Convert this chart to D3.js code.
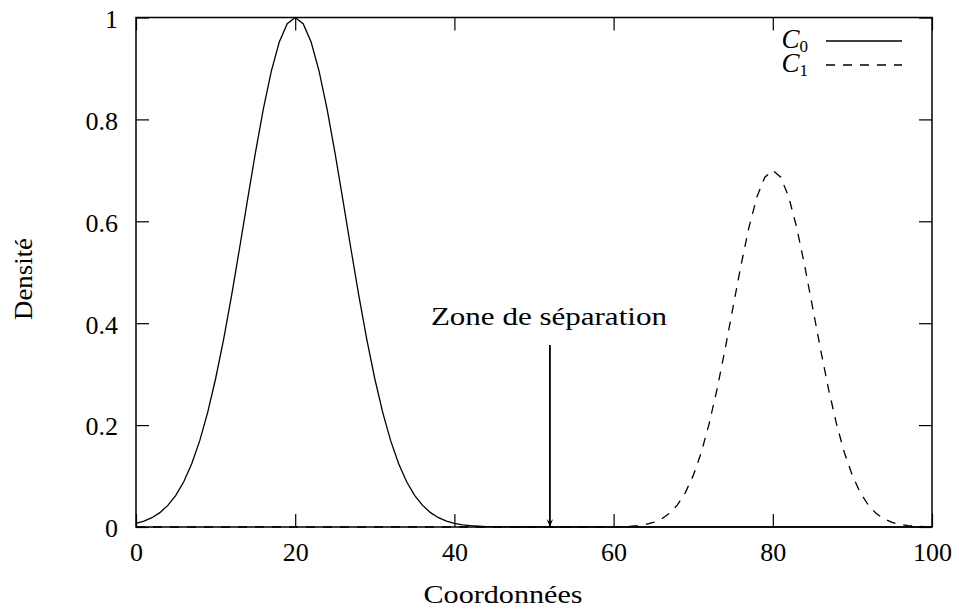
<!DOCTYPE html>
<html>
<head>
<meta charset="utf-8">
<script src="https://cdn.jsdelivr.net/npm/d3@7"></script>
<style>
  body { margin: 0; background: #fff; }
</style>
</head>
<body>
<div id="chart"></div>
<script>
// sample grid 0..100 (step 1)
var xs = d3.range(0, 101);

// C0 : density
var c0 = [0.0072, 0.0116, 0.0183, 0.0282, 0.0424, 0.0622, 0.0889, 0.1241, 0.1690, 0.2245,
          0.2910, 0.3679, 0.4538, 0.5461, 0.6412, 0.7345, 0.8208, 0.8948, 0.9518, 0.9877,
          1.0000, 0.9877, 0.9518, 0.8948, 0.8208, 0.7345, 0.6412, 0.5461, 0.4538, 0.3679,
          0.2910, 0.2245, 0.1690, 0.1241, 0.0889, 0.0622, 0.0424, 0.0282, 0.0183, 0.0116,
          0.0072, 0.0043, 0.0025, 0.0015, 0.0008, 0.0004, 0.0002, 0.0001, 0, 0,
          0, 0, 0, 0, 0, 0, 0, 0, 0, 0,
          0, 0, 0, 0, 0, 0, 0, 0, 0, 0,
          0, 0, 0, 0, 0, 0, 0, 0, 0, 0,
          0, 0, 0, 0, 0, 0, 0, 0, 0, 0,
          0, 0, 0, 0, 0, 0, 0, 0, 0, 0,
          0];

// C1 : density
var c1 = [0, 0, 0, 0, 0, 0, 0, 0, 0, 0,
          0, 0, 0, 0, 0, 0, 0, 0, 0, 0,
          0, 0, 0, 0, 0, 0, 0, 0, 0, 0,
          0, 0, 0, 0, 0, 0, 0, 0, 0, 0,
          0, 0, 0, 0, 0, 0, 0, 0, 0, 0,
          0, 0, 0, 0, 0, 0, 0, 0, 0, 0.0001,
          0.0003, 0.0006, 0.0013, 0.0026, 0.0049, 0.0089, 0.0157, 0.0265, 0.0430, 0.0671,
          0.1008, 0.1457, 0.2025, 0.2708, 0.3484, 0.4312, 0.5134, 0.5880, 0.6478, 0.6866,
          0.7000, 0.6866, 0.6478, 0.5880, 0.5134, 0.4312, 0.3484, 0.2708, 0.2025, 0.1457,
          0.1008, 0.0671, 0.0430, 0.0265, 0.0157, 0.0089, 0.0049, 0.0026, 0.0013, 0.0006,
          0.0003];

var xTicks = [0, 20, 40, 60, 80, 100];
var yTicks = [0, 0.2, 0.4, 0.6, 0.8, 1];
var seriesNames = ["0", "1"];   // subscripts of C
var arrowX = 52, arrowTop = 0.357;
var annotation = "Zone de séparation";

var W = 959, H = 609;
var FONT = "'Liberation Serif', 'Times New Roman', serif";
var margin = { top: 17.5, right: 27, bottom: 82, left: 136 },
    width = W - margin.left - margin.right,
    height = H - margin.top - margin.bottom;

var svg = d3.select("#chart").append("svg")
    .attr("width", W)
    .attr("height", H)
    .attr("font-family", FONT);

var g = svg.append("g")
    .attr("transform", "translate(" + margin.left + "," + margin.top + ")");

var x = d3.scaleLinear().domain([0, 100]).range([0, width]);
var y = d3.scaleLinear().domain([0, 1]).range([height, 0]);

var FS = 26;
var TICK = 13;

// axes (ticks inward, mirrored)
var xb = g.append("g")
    .attr("transform", "translate(0," + height + ")")
    .call(d3.axisBottom(x).tickValues(xTicks).tickFormat(d3.format("d"))
        .tickSizeInner(-TICK).tickSizeOuter(0).tickPadding(16));
g.append("g")
    .call(d3.axisTop(x).tickValues(xTicks).tickFormat("")
        .tickSizeInner(-TICK).tickSizeOuter(0));
var yl = g.append("g")
    .call(d3.axisLeft(y).tickValues(yTicks).tickFormat(function (d) { return d === 0 || d === 1 ? d : d.toFixed(1); })
        .tickSizeInner(-TICK).tickSizeOuter(0).tickPadding(18));
g.append("g")
    .attr("transform", "translate(" + width + ",0)")
    .call(d3.axisRight(y).tickValues(yTicks).tickFormat("")
        .tickSizeInner(-TICK).tickSizeOuter(0));

g.selectAll(".domain").remove();
g.selectAll(".tick line").attr("stroke", "#000").attr("stroke-width", 1.2);
g.selectAll(".tick text")
    .attr("font-family", FONT)
    .attr("font-size", FS)
    .attr("fill", "#000");
yl.selectAll(".tick text").attr("dy", "0.38em");

// curves
var line0 = d3.line()
    .x(function (d, i) { return x(xs[i]); })
    .y(function (d) { return y(d); });

g.append("path")
    .datum(c0)
    .attr("fill", "none")
    .attr("stroke", "#000")
    .attr("stroke-width", 1.3)
    .attr("d", line0);

g.append("path")
    .datum(c1)
    .attr("fill", "none")
    .attr("stroke", "#000")
    .attr("stroke-width", 1.3)
    .attr("stroke-dasharray", "9,8")
    .attr("d", line0);

// frame
g.append("rect")
    .attr("width", width)
    .attr("height", height)
    .attr("fill", "none")
    .attr("stroke", "#000")
    .attr("stroke-width", 1.5);

// arrow
svg.append("defs").append("marker")
    .attr("id", "arr")
    .attr("viewBox", "0 0 10 10")
    .attr("refX", 10).attr("refY", 5)
    .attr("markerWidth", 8).attr("markerHeight", 8)
    .attr("markerUnits", "userSpaceOnUse")
    .attr("orient", "auto")
    .append("path")
    .attr("d", "M0,1 L10,5 L0,9 L4,5 Z")
    .attr("fill", "#000");

g.append("line")
    .attr("x1", x(arrowX)).attr("x2", x(arrowX))
    .attr("y1", y(arrowTop)).attr("y2", y(0))
    .attr("stroke", "#000")
    .attr("stroke-width", 1.8)
    .attr("marker-end", "url(#arr)");

g.append("text")
    .attr("x", x(arrowX) - 1)
    .attr("y", 325 - margin.top)
    .attr("text-anchor", "middle")
    .attr("textLength", 236)
    .attr("lengthAdjust", "spacingAndGlyphs")
    .attr("font-size", FS)
    .text(annotation);

// axis titles
svg.append("text")
    .attr("x", 503)
    .attr("y", 603)
    .attr("text-anchor", "middle")
    .attr("textLength", 159)
    .attr("lengthAdjust", "spacingAndGlyphs")
    .attr("font-size", FS)
    .text("Coordonnées");

svg.append("text")
    .attr("transform", "translate(32,279) rotate(-90)")
    .attr("text-anchor", "middle")
    .attr("textLength", 82)
    .attr("lengthAdjust", "spacingAndGlyphs")
    .attr("font-size", FS)
    .text("Densité");

// legend
var legY = [41, 65];
var leg = svg.append("g");
seriesNames.forEach(function (s, i) {
    var t = leg.append("text")
        .attr("x", 808)
        .attr("y", legY[i] + 7)
        .attr("text-anchor", "end")
        .attr("font-size", 27);
    t.append("tspan").attr("font-style", "italic").text("C");
    t.append("tspan").attr("dy", 4).attr("font-size", 17).text(s);
    leg.append("line")
        .attr("x1", 826).attr("x2", 902)
        .attr("y1", legY[i]).attr("y2", legY[i])
        .attr("stroke", "#000")
        .attr("stroke-width", 1.3)
        .attr("stroke-dasharray", i === 1 ? "9,8" : null);
});
</script>
</body>
</html>
